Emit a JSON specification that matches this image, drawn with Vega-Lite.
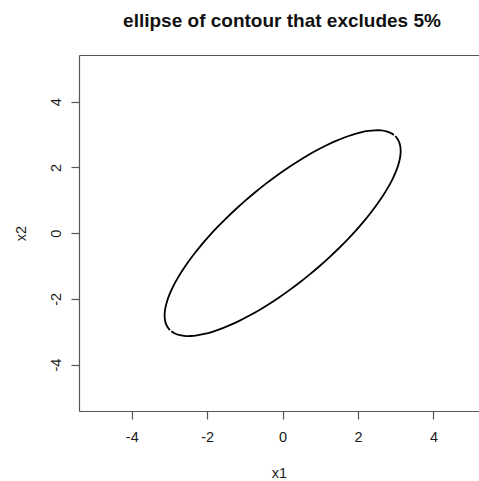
{
  "$schema": "https://vega.github.io/schema/vega-lite/v6.json",
  "width": 400,
  "height": 356,
  "autosize": "none",
  "padding": {"left": 79, "top": 55, "right": 0, "bottom": 70},
  "background": "white",
  "config": {
    "view": {"stroke": null},
    "font": "Liberation Sans",
    "axis": {
      "grid": false,
      "domainColor": "#555555",
      "domainWidth": 1.2,
      "tickColor": "#555555",
      "tickWidth": 1.2,
      "tickSize": 8,
      "labelFont": "Liberation Sans",
      "labelFontSize": 14.5,
      "labelColor": "#1a1a1a",
      "labelExpr": "'' + datum.value",
      "titleFont": "Liberation Sans",
      "titleFontSize": 14.5,
      "titleFontWeight": "normal",
      "titleColor": "#1a1a1a"
    }
  },
  "title": {
    "text": "ellipse of contour that excludes 5%",
    "font": "Liberation Sans",
    "fontSize": 19,
    "fontWeight": "bold",
    "color": "#111111",
    "anchor": "middle",
    "dx": 3,
    "offset": 24
  },
  "data": {
    "values": [
      {"arc": "a", "t": 1, "x1": 2.951, "x2": 2.986},
      {"arc": "a", "t": 5, "x1": 2.871, "x2": 3.044},
      {"arc": "a", "t": 10, "x1": 2.752, "x2": 3.096},
      {"arc": "a", "t": 15, "x1": 2.612, "x2": 3.124},
      {"arc": "a", "t": 20, "x1": 2.451, "x2": 3.129},
      {"arc": "a", "t": 25, "x1": 2.272, "x2": 3.109},
      {"arc": "a", "t": 30, "x1": 2.076, "x2": 3.066},
      {"arc": "a", "t": 35, "x1": 1.864, "x2": 3.0},
      {"arc": "a", "t": 40, "x1": 1.638, "x2": 2.911},
      {"arc": "a", "t": 45, "x1": 1.399, "x2": 2.799},
      {"arc": "a", "t": 50, "x1": 1.15, "x2": 2.667},
      {"arc": "a", "t": 55, "x1": 0.892, "x2": 2.514},
      {"arc": "a", "t": 60, "x1": 0.627, "x2": 2.342},
      {"arc": "a", "t": 65, "x1": 0.358, "x2": 2.152},
      {"arc": "a", "t": 70, "x1": 0.085, "x2": 1.946},
      {"arc": "a", "t": 75, "x1": -0.188, "x2": 1.725},
      {"arc": "a", "t": 80, "x1": -0.459, "x2": 1.491},
      {"arc": "a", "t": 85, "x1": -0.727, "x2": 1.245},
      {"arc": "a", "t": 90, "x1": -0.99, "x2": 0.99},
      {"arc": "a", "t": 95, "x1": -1.245, "x2": 0.727},
      {"arc": "a", "t": 100, "x1": -1.491, "x2": 0.459},
      {"arc": "a", "t": 105, "x1": -1.725, "x2": 0.188},
      {"arc": "a", "t": 110, "x1": -1.946, "x2": -0.085},
      {"arc": "a", "t": 115, "x1": -2.152, "x2": -0.358},
      {"arc": "a", "t": 120, "x1": -2.342, "x2": -0.627},
      {"arc": "a", "t": 125, "x1": -2.514, "x2": -0.892},
      {"arc": "a", "t": 130, "x1": -2.667, "x2": -1.15},
      {"arc": "a", "t": 135, "x1": -2.799, "x2": -1.399},
      {"arc": "a", "t": 140, "x1": -2.911, "x2": -1.638},
      {"arc": "a", "t": 145, "x1": -3.0, "x2": -1.864},
      {"arc": "a", "t": 150, "x1": -3.066, "x2": -2.076},
      {"arc": "a", "t": 155, "x1": -3.109, "x2": -2.272},
      {"arc": "a", "t": 160, "x1": -3.129, "x2": -2.451},
      {"arc": "a", "t": 165, "x1": -3.124, "x2": -2.612},
      {"arc": "a", "t": 170, "x1": -3.096, "x2": -2.752},
      {"arc": "a", "t": 175, "x1": -3.044, "x2": -2.871},
      {"arc": "a", "t": 179, "x1": -2.986, "x2": -2.951},
      {"arc": "b", "t": 181, "x1": -2.951, "x2": -2.986},
      {"arc": "b", "t": 185, "x1": -2.871, "x2": -3.044},
      {"arc": "b", "t": 190, "x1": -2.752, "x2": -3.096},
      {"arc": "b", "t": 195, "x1": -2.612, "x2": -3.124},
      {"arc": "b", "t": 200, "x1": -2.451, "x2": -3.129},
      {"arc": "b", "t": 205, "x1": -2.272, "x2": -3.109},
      {"arc": "b", "t": 210, "x1": -2.076, "x2": -3.066},
      {"arc": "b", "t": 215, "x1": -1.864, "x2": -3.0},
      {"arc": "b", "t": 220, "x1": -1.638, "x2": -2.911},
      {"arc": "b", "t": 225, "x1": -1.399, "x2": -2.799},
      {"arc": "b", "t": 230, "x1": -1.15, "x2": -2.667},
      {"arc": "b", "t": 235, "x1": -0.892, "x2": -2.514},
      {"arc": "b", "t": 240, "x1": -0.627, "x2": -2.342},
      {"arc": "b", "t": 245, "x1": -0.358, "x2": -2.152},
      {"arc": "b", "t": 250, "x1": -0.085, "x2": -1.946},
      {"arc": "b", "t": 255, "x1": 0.188, "x2": -1.725},
      {"arc": "b", "t": 260, "x1": 0.459, "x2": -1.491},
      {"arc": "b", "t": 265, "x1": 0.727, "x2": -1.245},
      {"arc": "b", "t": 270, "x1": 0.99, "x2": -0.99},
      {"arc": "b", "t": 275, "x1": 1.245, "x2": -0.727},
      {"arc": "b", "t": 280, "x1": 1.491, "x2": -0.459},
      {"arc": "b", "t": 285, "x1": 1.725, "x2": -0.188},
      {"arc": "b", "t": 290, "x1": 1.946, "x2": 0.085},
      {"arc": "b", "t": 295, "x1": 2.152, "x2": 0.358},
      {"arc": "b", "t": 300, "x1": 2.342, "x2": 0.627},
      {"arc": "b", "t": 305, "x1": 2.514, "x2": 0.892},
      {"arc": "b", "t": 310, "x1": 2.667, "x2": 1.15},
      {"arc": "b", "t": 315, "x1": 2.799, "x2": 1.399},
      {"arc": "b", "t": 320, "x1": 2.911, "x2": 1.638},
      {"arc": "b", "t": 325, "x1": 3.0, "x2": 1.864},
      {"arc": "b", "t": 330, "x1": 3.066, "x2": 2.076},
      {"arc": "b", "t": 335, "x1": 3.109, "x2": 2.272},
      {"arc": "b", "t": 340, "x1": 3.129, "x2": 2.451},
      {"arc": "b", "t": 345, "x1": 3.124, "x2": 2.612},
      {"arc": "b", "t": 350, "x1": 3.096, "x2": 2.752},
      {"arc": "b", "t": 355, "x1": 3.044, "x2": 2.871},
      {"arc": "b", "t": 359, "x1": 2.986, "x2": 2.951}
    ]
  },
  "layer": [
    {
      "mark": {"type": "line", "color": "#000000", "strokeWidth": 1.8, "interpolate": "cardinal"},
      "encoding": {
        "x": {
          "field": "x1", "type": "quantitative",
          "scale": {"domain": [-5.4, 5.207], "nice": false, "zero": false},
          "axis": {"values": [-4, -2, 0, 2, 4], "labelPadding": 11, "title": "x1", "titlePadding": 23}
        },
        "y": {
          "field": "x2", "type": "quantitative",
          "scale": {"domain": [-5.41, 5.42], "nice": false, "zero": false},
          "axis": {"values": [-4, -2, 0, 2, 4], "labelAngle": -90, "labelAlign": "center", "labelBaseline": "bottom", "labelPadding": 8, "title": "x2", "titlePadding": 20}
        },
        "detail": {"field": "arc", "type": "nominal"},
        "order": {"field": "t", "type": "quantitative"}
      }
    },
    {
      "mark": {"type": "line", "strokeOpacity": 0},
      "encoding": {
        "x": {
          "field": "x1", "type": "quantitative",
          "axis": {"orient": "top", "labels": false, "ticks": false, "title": null, "domain": true}
        },
        "y": {"field": "x2", "type": "quantitative", "axis": null},
        "detail": {"field": "arc", "type": "nominal"},
        "order": {"field": "t", "type": "quantitative"}
      }
    }
  ],
  "resolve": {"axis": {"x": "independent", "y": "independent"}}
}
